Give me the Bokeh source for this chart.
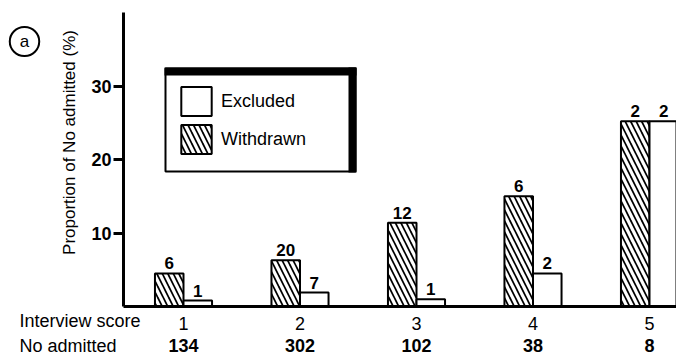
from math import pi
from bokeh.plotting import figure
from bokeh.models import (Range1d, FixedTicker, Label, LabelSet, Legend, LegendItem,
                          BoxAnnotation, ColumnDataSource, LinearAxis)
from bokeh.transform import dodge
from bokeh.core.properties import value
from bokeh.embed import file_html
from bokeh.resources import INLINE

# ---- data ----
scores = [1, 2, 3, 4, 5]
score_labels = ["1", "2", "3", "4", "5"]
no_admitted = [134, 302, 102, 38, 8]
withdrawn_pct = [4.5, 6.3, 11.4, 15.0, 25.2]
excluded_pct = [0.8, 1.9, 1.0, 4.5, 25.2]
withdrawn_n = [6, 20, 12, 6, 2]
excluded_n = [1, 7, 1, 2, 2]
y_ticks = [10, 20, 30]

FONT = "Liberation Sans"

# ---- layout (pixels of the 676x355 picture) ----
W, H = 676, 355
PX_X = 116.5            # pixels per score unit
PX_Y = 7.35             # pixels per percent
BASE_PX = 306           # zero line pixel row
BW = 0.245              # bar width in score units


def dx(px):
    return 1.0 + (px - 183) / PX_X


def dy(py):
    return (BASE_PX - py) / PX_Y


p = figure(width=W, height=H, x_range=Range1d(dx(0), dx(W)), y_range=Range1d(dy(H), dy(0)),
           toolbar_location=None, output_backend="svg",
           min_border=0, min_border_left=0, min_border_right=0,
           min_border_top=0, min_border_bottom=0)
p.outline_line_color = None
p.xgrid.visible = False
p.ygrid.visible = False
p.background_fill_color = "white"
p.border_fill_color = "white"

src = ColumnDataSource(dict(
    score=scores, wd=withdrawn_pct, ex=excluded_pct,
    wd_lbl=[str(v) for v in withdrawn_n], ex_lbl=[str(v) for v in excluded_n],
    adm=[str(v) for v in no_admitted], adm_y=[dy(351)] * len(scores),
))

r_wd = p.vbar(x=dodge("score", -BW / 2, range=p.x_range), top="wd", bottom=0, width=BW,
              source=src, fill_color="white", line_color="black", line_width=2,
              hatch_pattern="\\", hatch_color="black", hatch_scale=11, hatch_weight=1.7)
r_ex = p.vbar(x=dodge("score", BW / 2, range=p.x_range), top="ex", bottom=0, width=BW,
              source=src, fill_color="white", line_color="black", line_width=2)

for xoff, ycol, tcol in [(-BW / 2, "wd", "wd_lbl"), (BW / 2, "ex", "ex_lbl")]:
    p.text(x=dodge("score", xoff, range=p.x_range), y=ycol, text=tcol, source=src,
           text_font=value(FONT), text_font_size=value("17px"),
           text_font_style=value("bold"), text_align=value("center"),
           text_baseline=value("alphabetic"), y_offset=-10, text_color="black")

# y axis, placed at the left edge of the bar area
p.yaxis.visible = False
p.xaxis.visible = False
ya = LinearAxis(fixed_location=dx(123), bounds=(0, 40), ticker=FixedTicker(ticks=y_ticks))
ya.axis_line_width = 3
ya.axis_line_color = "black"
ya.major_tick_in = 0
ya.major_tick_out = 10
ya.major_tick_line_width = 3
ya.minor_tick_line_color = None
ya.major_label_text_font = FONT
ya.major_label_text_font_size = "18px"
ya.major_label_text_font_style = "bold"
ya.major_label_text_color = "black"
ya.major_label_standoff = 2
p.add_layout(ya, "left")

# x axis (interview score)
xa = LinearAxis(fixed_location=0, bounds=(dx(123), dx(W)), ticker=FixedTicker(ticks=scores))
xa.major_label_overrides = {s: l for s, l in zip(scores, score_labels)}
xa.axis_line_width = 3
xa.axis_line_color = "black"
xa.major_tick_line_color = None
xa.minor_tick_line_color = None
xa.major_label_text_font = FONT
xa.major_label_text_font_size = "18px"
xa.major_label_text_color = "black"
xa.major_label_standoff = 4
p.add_layout(xa, "below")

# No admitted row
p.add_layout(LabelSet(x="score", y="adm_y", text="adm", source=src,
                      text_font=value(FONT), text_font_size=value("18px"),
                      text_font_style=value("bold"), text_align=value("center"),
                      text_baseline=value("alphabetic"), text_color=value("black")))

for txt, py in [("Interview score", 320), ("No admitted", 345)]:
    p.add_layout(Label(x=dx(19), y=dy(py), text=txt, text_font=FONT,
                       text_font_size="18px", text_align="left",
                       text_baseline="alphabetic", text_color="black"))

# y axis title
p.add_layout(Label(x=dx(69), y=dy(142), text="Proportion of No admitted (%)",
                   angle=pi / 2, text_font=FONT, text_font_size="17px",
                   text_align="center", text_baseline="middle", text_color="black"))

# panel tag
p.add_layout(Label(x=dx(24), y=dy(41), text="a", text_font=FONT, text_font_size="17px",
                   text_align="center", text_baseline="middle", text_color="black",
                   border_line_color="black", border_line_width=2,
                   padding=dict(left=10, right=10, top=5, bottom=5), border_radius=15))

# legend frame: thin box with heavy top and right edges
p.add_layout(BoxAnnotation(left=dx(165), right=dx(355), top=dy(68), bottom=dy(171),
                           fill_color="white", fill_alpha=1, line_color="black",
                           line_width=2, line_alpha=1))
p.add_layout(BoxAnnotation(left=dx(164), right=dx(356), top=dy(67), bottom=dy(75),
                           fill_color="black", fill_alpha=1, line_alpha=0))
p.add_layout(BoxAnnotation(left=dx(348), right=dx(356), top=dy(67), bottom=dy(172),
                           fill_color="black", fill_alpha=1, line_alpha=0))

legend = Legend(items=[LegendItem(label="Excluded", renderers=[r_ex]),
                       LegendItem(label="Withdrawn", renderers=[r_wd])],
                location=(177, 198), padding=0, spacing=2, margin=0,
                glyph_width=38, glyph_height=36, label_height=36, label_width=120,
                label_standoff=6, label_text_font=FONT, label_text_font_size="18px",
                label_text_color="black",
                border_line_color=None, background_fill_alpha=0)
p.add_layout(legend)

open("out.html", "w").write(file_html(p, INLINE))
